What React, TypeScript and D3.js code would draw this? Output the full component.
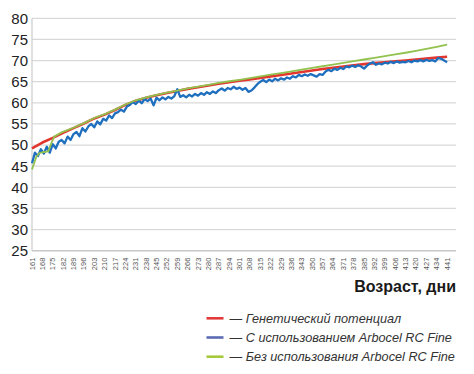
import React from "react";
import * as d3 from "d3";

const yTicks = [25, 30, 35, 40, 45, 50, 55, 60, 65, 70, 75, 80];
const xLabels = d3.range(161, 442, 7);

const redDays = [161,168,175,182,189,196,203,210,217,224,231,238,245,252,259,266,273,280,287,294,301,308,315,322,329,336,343,350,357,364,371,378,385,392,399,406,413,420,427,434,441];
const redValues = [49.2,50.6,51.7,52.9,54.0,55.1,56.3,57.2,58.3,59.5,60.5,61.2,61.8,62.3,62.8,63.3,63.7,64.1,64.5,64.85,65.2,65.55,65.9,66.25,66.6,66.95,67.3,67.65,68.0,68.3,68.6,68.9,69.15,69.4,69.6,69.8,70.0,70.25,70.45,70.7,70.9];

const greenDays = [161,164,166,168,172,174,176,181,189,196,203,210,217,224,231,238,245,252,259,266,273,280,287,294,301,308,315,322,329,336,343,350,357,364,371,378,385,392,399,406,413,420,427,434,441];
const greenValues = [44.2,47.3,48.1,48.3,48.5,50.4,52.0,53.0,54.1,55.2,56.4,57.3,58.4,59.6,60.6,61.3,61.9,62.4,62.9,63.4,63.85,64.25,64.7,65.1,65.45,65.85,66.25,66.65,67.05,67.45,67.85,68.25,68.65,69.05,69.45,69.85,70.25,70.65,71.05,71.45,71.85,72.3,72.75,73.25,73.75];

const blueValues = [
45.7,48.2,47.4,49.0,48.0,49.6,48.2,50.2,49.2,50.8,51.2,50.4,52.0,51.2,52.6,53.1,52.1,54.0,53.2,54.4,
55.0,54.2,55.6,54.9,56.2,55.8,57.0,56.4,57.5,57.8,58.4,57.9,59.1,59.5,60.2,59.7,60.5,59.9,60.9,60.4,
61.0,59.4,61.2,60.6,61.3,60.8,61.4,61.0,61.6,63.2,61.4,61.8,61.3,61.9,61.5,62.1,61.7,62.3,61.9,62.5,
62.1,62.7,62.3,63.0,63.4,62.9,63.5,63.2,63.8,63.3,63.6,63.1,63.5,62.6,62.9,63.6,64.4,65.0,65.4,64.9,
65.5,65.1,65.7,65.3,65.8,65.5,66.0,65.7,66.3,66.0,66.6,66.3,66.7,66.4,66.8,66.5,66.2,66.8,66.6,67.4,
67.8,67.5,68.1,67.8,68.3,68.0,68.6,68.4,68.8,68.5,68.9,68.6,68.1,68.8,69.3,69.6,69.0,69.3,69.1,69.5,
69.3,69.7,69.4,69.8,69.5,69.7,69.6,69.9,69.6,70.0,69.8,70.1,69.8,70.2,69.9,70.1,69.8,70.6,70.4,70.0,
69.6];
const blueDays = blueValues.map((_, i) => 161 + 2 * i);

const legendItems = [
  { label: "— Генетический потенциал", color: "#e3393b" },
  { label: "— С использованием Arbocel RC Fine", color: "#5a6ab3" },
  { label: "— Без использования Arbocel RC Fine", color: "#a6c93c" },
];

export default function App() {
  const W = 474, H = 374;
  const left = 32, right = 456, top = 18.3, bottom = 250.7;
  const x = d3.scaleLinear().domain([161, 447]).range([left, right]);
  const y = d3.scaleLinear().domain([25, 80]).range([bottom, top]);
  const line = d3.line<[number, number]>().x(d => x(d[0])).y(d => y(d[1]));
  const redPts = redDays.map((d, i) => [d, redValues[i]] as [number, number]);
  const greenPts = greenDays.map((d, i) => [d, greenValues[i]] as [number, number]);
  const bluePts = blueDays.map((d, i) => [d, blueValues[i]] as [number, number]);

  return (
    <svg width={W} height={H} style={{ position: "absolute", left: 0, top: 0, background: "#fff" }}
      fontFamily="'Liberation Sans', Arial, sans-serif">
      {yTicks.map(t => (
        <g key={t}>
          {t !== 25 && <line x1={left} x2={right} y1={y(t)} y2={y(t)} stroke="#d9d9d9" strokeWidth={1.3} />}
          <text x={28} y={y(t)} dy="0.36em" textAnchor="end" fontSize={15} fill="#222">{t}</text>
        </g>
      ))}
      <line x1={left} x2={left} y1={top} y2={bottom} stroke="#cfcfcf" strokeWidth={1.3} />
      <line x1={left} x2={right} y1={bottom} y2={bottom} stroke="#c8c8c8" strokeWidth={1.5} />
      {xLabels.map(v => (
        <text key={v} transform={`translate(${x(v)},${bottom + 7}) rotate(-90)`} textAnchor="end"
          dominantBaseline="central" fontSize={7.5} fill="#555">{v}</text>
      ))}
      <path d={line(redPts) || ""} fill="none" stroke="#e2362f" strokeWidth={2.6} strokeLinejoin="round" />
      <path d={line(bluePts) || ""} fill="none" stroke="#1f6fbf" strokeWidth={2.3} strokeLinejoin="round" />
      <path d={line(greenPts) || ""} fill="none" stroke="#92c24e" strokeWidth={1.8} strokeLinejoin="round" />
      <text x={456} y={292} textAnchor="end" fontSize={16} fontWeight="bold" fill="#1a1a1a">Возраст, дни</text>
      {legendItems.map((it, i) => (
        <g key={i}>
          <line x1={206.5} x2={223.5} y1={318.3 + i * 19.2} y2={318.3 + i * 19.2} stroke={it.color} strokeWidth={2.6} />
          <text x={229.5} y={318.3 + i * 19.2} dy="0.35em" fontSize={12.7} fontStyle="italic" fill="#333">{it.label}</text>
        </g>
      ))}
    </svg>
  );
}
